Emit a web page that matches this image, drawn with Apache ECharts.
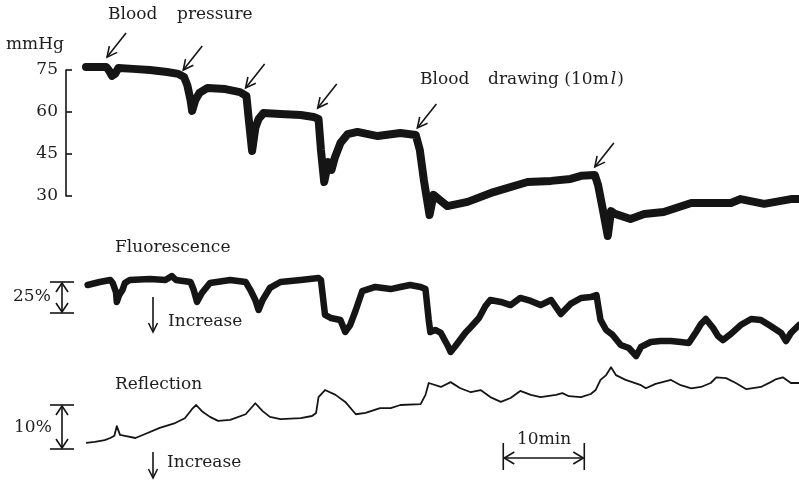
<!DOCTYPE html>
<html>
<head>
<meta charset="utf-8">
<script src="https://cdn.jsdelivr.net/npm/echarts@6/dist/echarts.min.js"></script>
<style>
html,body{margin:0;padding:0;background:#fff;}
#chart{width:799px;height:480px;}
</style>
</head>
<body>
<div id="chart"></div>
<script>
// time in minutes, values in trace units
const bloodPressure = [[0,76.1],[2.5,76.1],[2.8,75.0],[3.2,72.9],[3.6,73.6],[4.0,75.7],[5.8,75.4],[7.9,75.0],[10.0,74.3],[11.4,73.6],[12.1,72.5],[12.5,69.6],[12.9,64.3],[13.1,60.4],[13.5,64.3],[14.0,66.8],[15.0,68.6],[17.2,68.2],[19.0,67.1],[19.8,65.7],[20.1,57.1],[20.5,46.1],[20.9,54.3],[21.3,57.5],[21.9,59.6],[24.0,59.3],[26.5,58.9],[28.1,58.2],[28.7,57.5],[29.0,46.4],[29.4,35.0],[29.9,42.1],[30.3,39.3],[30.7,43.6],[31.4,48.9],[32.3,52.1],[33.5,52.9],[36.0,51.4],[38.8,52.5],[40.7,51.8],[41.2,46.4],[41.7,35.7],[42.4,23.2],[42.9,30.4],[43.5,29.0],[44.6,26.4],[47.1,27.9],[50.3,31.4],[54.5,35.0],[57.4,35.4],[59.8,36.1],[61.1,37.2],[62.8,37.5],[63.2,33.9],[63.8,25.0],[64.4,15.7],[64.8,24.6],[65.3,23.6],[67.2,21.8],[68.9,23.6],[71.3,24.3],[74.7,27.5],[79.6,27.5],[80.8,28.9],[83.7,27.2],[87.0,28.9],[88,28.9]];
const fluorescence = [[0.2,22.6],[1.7,25.0],[3.0,26.6],[3.3,24.2],[3.7,16.9],[3.8,8.9],[4.1,14.5],[4.5,18.5],[4.8,24.2],[5.4,26.6],[7.9,27.4],[9.8,26.6],[10.6,29.8],[11.1,26.6],[12.9,25.0],[13.3,18.5],[13.7,8.9],[14.3,16.1],[15.3,24.2],[17.8,26.6],[19.7,25.0],[20.3,18.5],[20.9,10.5],[21.3,2.4],[21.8,10.5],[22.7,20.2],[24.0,25.0],[26.5,26.6],[28.7,28.2],[29.0,26.6],[29.5,-1.6],[30.2,-4.0],[31.4,-5.6],[32.0,-15.3],[32.6,-9.7],[33.3,2.4],[34.1,17.7],[35.7,21.0],[37.6,19.3],[38.8,21.0],[40.0,22.6],[41.3,21.0],[41.9,19.3],[42.3,-5.6],[42.5,-15.3],[43.1,-13.7],[43.8,-16.1],[44.6,-25.8],[45.0,-31.4],[45.6,-26.6],[46.8,-16.1],[47.5,-11.3],[48.5,-4.0],[49.3,5.6],[49.9,10.5],[51.2,8.9],[52.4,6.4],[53.6,12.1],[54.9,9.7],[56.1,6.4],[57.4,10.5],[58.6,-0.8],[59.8,7.3],[61.1,12.1],[62.3,12.9],[63.0,14.5],[63.5,-5.6],[64.2,-13.7],[65.0,-17.7],[66.0,-25.8],[67.0,-28.2],[67.9,-34.7],[68.5,-27.4],[69.7,-23.4],[70.9,-22.6],[72.2,-22.6],[73.4,-23.4],[74.4,-24.2],[75.3,-15.3],[75.9,-8.9],[76.5,-4.8],[77.4,-12.1],[78.0,-18.5],[78.6,-21.8],[79.6,-16.9],[80.8,-9.7],[82.1,-4.8],[83.3,-5.6],[84.5,-10.5],[85.8,-16.1],[86.4,-22.6],[87.0,-16.1],[88,-9.7]];
const reflection = [[0,1.4],[1.1,1.6],[2.3,2.0],[3.0,2.5],[3.5,3.0],[3.8,5.2],[4.2,3.2],[4.8,3.0],[6.1,2.5],[7.3,3.4],[9.1,4.8],[11.0,5.9],[12.2,7.0],[13.1,9.1],[13.6,10.0],[14.3,8.6],[15.3,7.3],[16.3,6.4],[17.8,6.6],[19.7,7.9],[20.9,10.4],[21.8,8.6],[22.7,7.3],[24.0,6.8],[26.5,7.0],[27.9,7.5],[28.4,8.2],[28.7,11.8],[29.5,13.4],[30.8,12.3],[32.0,10.7],[33.3,7.9],[34.5,8.2],[36.3,9.3],[37.6,9.3],[38.8,10.0],[41.3,10.2],[41.9,12.3],[42.3,15.0],[43.8,14.1],[45.0,15.2],[46.2,13.8],[47.5,12.9],[48.7,13.4],[49.9,11.8],[51.2,10.7],[52.4,11.6],[53.6,13.2],[54.9,12.3],[56.1,11.8],[58.0,12.3],[58.8,12.7],[59.6,12.0],[61.1,11.8],[62.3,12.5],[62.9,13.4],[63.5,15.7],[64.2,16.8],[64.8,18.6],[65.4,16.8],[66.6,15.7],[68.5,14.5],[69.1,13.8],[70.3,14.8],[72.2,15.7],[73.4,14.5],[74.7,13.8],[75.9,14.1],[77.1,15.0],[77.8,16.3],[79.0,16.1],[80.2,15.0],[81.5,13.6],[83.3,14.1],[84.5,15.2],[85.2,15.9],[86.0,16.3],[87.0,15.0],[88,15.0]];
const bpTicks = [30, 45, 60, 75];
const eventTimes = [2.6, 12.0, 19.7, 28.6, 40.9, 62.8];
const eventLevels = [79.6, 75.0, 68.6, 61.4, 54.3, 40.4];
const fluoScale = [0, 25];
const reflScale = [0, 10];
const timeScale = [51.5, 61.5];

const ink = '#151515';
const FONT = '17px "DejaVu Serif", "Liberation Serif", serif';
const chart = echarts.init(document.getElementById('chart'), null, {renderer: 'canvas'});

const xBase = {type: 'value', min: 0, max: 88, show: false};
chart.setOption({
  animation: false,
  backgroundColor: '#fff',
  grid: [
    {left: 86, right: 0, top: 70, height: 126},
    {left: 86, right: 0, top: 282, height: 31},
    {left: 86, right: 0, top: 405, height: 44}
  ],
  xAxis: [
    Object.assign({gridIndex: 0}, xBase),
    Object.assign({gridIndex: 1}, xBase),
    Object.assign({gridIndex: 2}, xBase)
  ],
  yAxis: [
    {gridIndex: 0, type: 'value', position: 'left', min: bpTicks[0], max: bpTicks[bpTicks.length - 1], interval: 15, offset: 20,
     axisLine: {show: true, onZero: false, lineStyle: {color: ink, width: 1.6}},
     axisTick: {show: true, inside: true, length: 6, lineStyle: {color: ink, width: 1.6}},
     axisLabel: {color: '#1e1e1e', fontFamily: '"DejaVu Serif", serif', fontSize: 17, margin: 8},
     splitLine: {show: false}},
    {gridIndex: 1, type: 'value', min: fluoScale[0], max: fluoScale[1], show: false},
    {gridIndex: 2, type: 'value', min: reflScale[0], max: reflScale[1], show: false}
  ],
  series: [
    {type: 'line', xAxisIndex: 0, yAxisIndex: 0, data: bloodPressure, showSymbol: false, clip: false,
     lineStyle: {color: ink, width: 8, join: 'round', cap: 'round'}},
    {type: 'line', xAxisIndex: 1, yAxisIndex: 1, data: fluorescence, showSymbol: false, clip: false,
     lineStyle: {color: ink, width: 6.5, join: 'round', cap: 'round'}},
    {type: 'line', xAxisIndex: 2, yAxisIndex: 2, data: reflection, showSymbol: false, clip: false,
     lineStyle: {color: ink, width: 1.8, join: 'round'}}
  ]
});

function seg(x1, y1, x2, y2, w) {
  return {type: 'line', silent: true, shape: {x1: x1, y1: y1, x2: x2, y2: y2}, style: {stroke: ink, lineWidth: w || 1.6}};
}
function head(tx, ty, fx, fy, len, half, w) {
  const dx = tx - fx, dy = ty - fy, L = Math.sqrt(dx * dx + dy * dy);
  const ux = dx / L, uy = dy / L, nx = -uy, ny = ux;
  const bx = tx - ux * len, by = ty - uy * len;
  return {type: 'polyline', silent: true,
    shape: {points: [[bx + nx * half, by + ny * half], [tx, ty], [bx - nx * half, by - ny * half]]},
    style: {stroke: ink, lineWidth: w || 1.6, fill: null}};
}
function txt(s, x, y, extra) {
  return {type: 'text', silent: true, x: x, y: y,
    style: Object.assign({text: s, font: FONT, fill: '#1e1e1e', align: 'left', verticalAlign: 'middle'}, extra || {})};
}

const g = [];
// event arrows on blood pressure trace
for (let i = 0; i < eventTimes.length; i++) {
  const p = chart.convertToPixel({gridIndex: 0}, [eventTimes[i], eventLevels[i]]);
  const tx = p[0], ty = p[1], fx = tx + 19, fy = ty - 24;
  g.push(seg(fx, fy, tx, ty, 1.6));
  g.push(head(tx, ty, fx, fy, 10, 5, 1.6));
}
// vertical scale bars
function vbar(yTop, yBot, x) {
  g.push(seg(x - 12, yTop, x + 12, yTop, 1.6));
  g.push(seg(x - 12, yBot, x + 12, yBot, 1.6));
  g.push(seg(x, yTop + 1, x, yBot - 1, 1.6));
  g.push(head(x, yTop + 1, x, yBot, 9, 6, 1.6));
  g.push(head(x, yBot - 1, x, yTop, 9, 6, 1.6));
}
vbar(chart.convertToPixel({yAxisIndex: 1}, fluoScale[1]), chart.convertToPixel({yAxisIndex: 1}, fluoScale[0]), 62);
vbar(chart.convertToPixel({yAxisIndex: 2}, reflScale[1]), chart.convertToPixel({yAxisIndex: 2}, reflScale[0]), 62);
// horizontal time bar
const xL = chart.convertToPixel({xAxisIndex: 2}, timeScale[0]);
const xR = chart.convertToPixel({xAxisIndex: 2}, timeScale[1]);
g.push(seg(xL, 443, xL, 470, 1.6));
g.push(seg(xR, 443, xR, 470, 1.6));
g.push(seg(xL + 1, 458, xR - 1, 458, 1.6));
g.push(head(xL + 1, 458, xR, 458, 10, 6, 1.6));
g.push(head(xR - 1, 458, xL, 458, 10, 6, 1.6));
// "Increase" arrows
g.push(seg(153, 297, 153, 331, 1.6));
g.push(head(153, 332, 153, 297, 9, 4.5, 1.6));
g.push(seg(153, 452, 153, 477, 1.6));
g.push(head(153, 478, 153, 452, 9, 4.5, 1.6));
// texts
g.push(txt('Blood', 108, 15));
g.push(txt('pressure', 177, 15));
g.push(txt('mmHg', 6, 45));
g.push(txt('Blood', 420, 80));
g.push({type: 'text', silent: true, x: 488, y: 80,
  style: {text: 'drawing (10m{i|l})', font: FONT, fill: '#1e1e1e', align: 'left', verticalAlign: 'middle',
    rich: {i: {fontStyle: 'italic', fontFamily: '"DejaVu Serif", serif', fontSize: 17, fill: '#1e1e1e', padding: [0, 1, 0, 2]}}}});
g.push(txt('Fluorescence', 115, 248));
g.push(txt('25%', 13, 297));
g.push(txt('Increase', 168, 322));
g.push(txt('Reflection', 115, 385));
g.push(txt('10%', 14, 428));
g.push(txt('Increase', 167, 463));
g.push(txt('10min', 517, 440));

chart.setOption({graphic: {elements: g}});
</script>
</body>
</html>
